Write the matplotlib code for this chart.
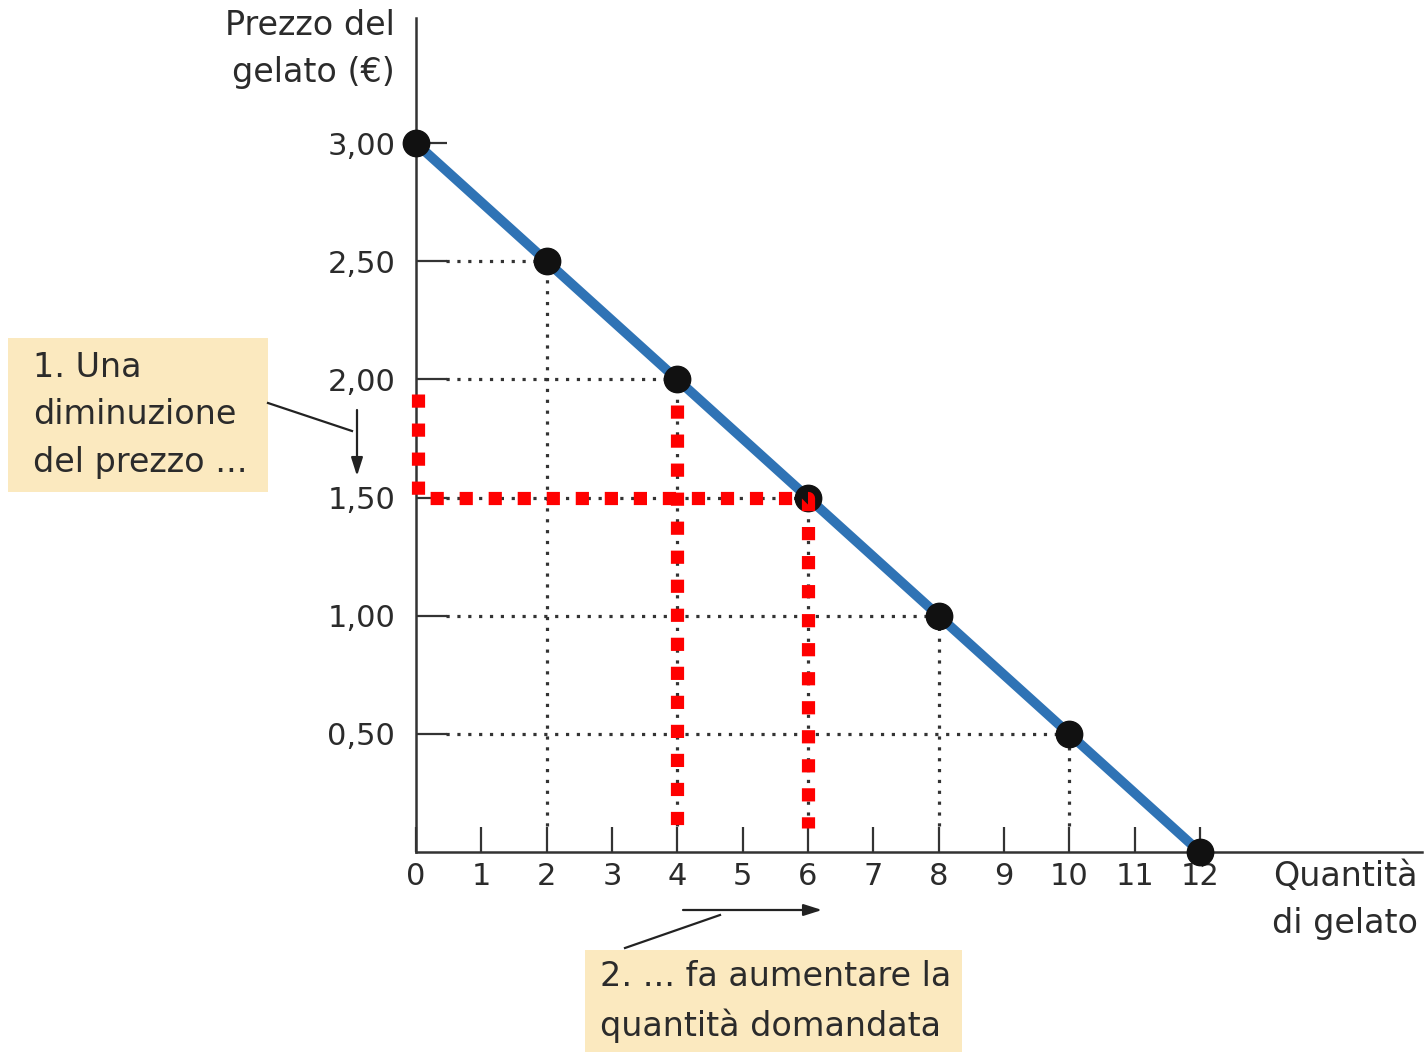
import matplotlib.pyplot as plt
from matplotlib.patches import Rectangle

# curva di domanda del gelato
quantita = [0, 2, 4, 6, 8, 10, 12]
prezzo = [3.00, 2.50, 2.00, 1.50, 1.00, 0.50, 0.00]
x_ticks = list(range(13))
y_ticks = [0.50, 1.00, 1.50, 2.00, 2.50, 3.00]
y_labels = ['0,50', '1,00', '1,50', '2,00', '2,50', '3,00']

W, H = 1426, 1052
fig = plt.figure(figsize=(W / 100, H / 100), dpi=100)
plt.rcParams['font.family'] = ['DejaVu Sans']
txt = '#2b2b2b'
box_col = '#fbe9bf'


def fx(px):
    return px / W


def fy(py):
    return 1 - py / H


ax = fig.add_axes([fx(416), fy(852), 1006 / W, 834 / H])
ax.set_xlim(0, 15.4)
ax.set_ylim(0, 3.53)

for s in ['top', 'right']:
    ax.spines[s].set_visible(False)
for s in ['left', 'bottom']:
    ax.spines[s].set_color('#333333')
    ax.spines[s].set_linewidth(1.8)

ax.set_xticks(x_ticks)
ax.set_yticks(y_ticks)
ax.set_yticklabels(y_labels)
ax.tick_params(axis='x', direction='in', length=18, width=1.6, color='#333333',
               labelsize=22, labelcolor=txt, pad=7)
ax.tick_params(axis='y', direction='in', length=22, width=1.6, color='#333333',
               labelsize=22, labelcolor=txt, pad=15)

# linee punteggiate di riferimento
for q, p in zip(quantita[1:-1], prezzo[1:-1]):
    ax.plot([0.46, q], [p, p], color='#333333', lw=2.3, dashes=(1, 2.4), zorder=2)
    ax.plot([q, q], [0.11, p], color='#333333', lw=2.3, dashes=(1, 2.4), zorder=2)

# curva
ax.plot(quantita, prezzo, color='#2f73b5', lw=7, zorder=3, solid_capstyle='butt')
ax.plot(quantita, prezzo, 'o', color='#111111', markersize=19, zorder=4, clip_on=False)

# tratteggio rosso
q_a, p_a = quantita[2], prezzo[2]
q_b, p_b = quantita[3], prezzo[3]
ax.plot([0.03, 0.03, q_b, q_b], [p_a - 0.06, p_b, p_b, 0.10],
        color='#ff0000', lw=9.5, dashes=(1, 1.2), zorder=5, clip_on=False)
ax.plot([q_a, q_a], [p_a - 0.11, 0.10], color='#ff0000', lw=9.5, dashes=(1, 1.2),
        zorder=5, clip_on=False)

# titoli assi
fig.text(fx(395), fy(9), 'Prezzo del\ngelato (€)', ha='right', va='top',
         fontsize=24, color=txt, linespacing=1.55)
fig.text(fx(1418), fy(860), 'Quantità\ndi gelato', ha='right', va='top',
         fontsize=24, color=txt, linespacing=1.55)

# riquadri
fig.patches.append(Rectangle((fx(8), fy(492)), 260 / W, 154 / H, transform=fig.transFigure,
                             facecolor=box_col, edgecolor='none', zorder=0))
fig.text(fx(33), fy(351), '1. Una\ndiminuzione\ndel prezzo ...', ha='left', va='top',
         fontsize=24, color=txt, linespacing=1.55)
fig.patches.append(Rectangle((fx(585), fy(1052)), 377 / W, 102 / H, transform=fig.transFigure,
                             facecolor=box_col, edgecolor='none', zorder=0))
fig.text(fx(600), fy(960), '2. ... fa aumentare la\nquantità domandata', ha='left', va='top',
         fontsize=24, color=txt, linespacing=1.55)

# frecce
fig.add_artist(plt.Line2D([fx(268), fx(352)], [fy(403), fy(431)], transform=fig.transFigure,
                          color='#222222', lw=1.6))
ax.annotate('', xy=(357, H - 476), xytext=(357, H - 410), xycoords='figure pixels',
            textcoords='figure pixels',
            arrowprops=dict(arrowstyle='-|>,head_length=1.1,head_width=0.35',
                            color='#222222', lw=1.6, shrinkA=0, shrinkB=0))
fig.add_artist(plt.Line2D([fx(625), fx(720)], [fy(948), fy(915)], transform=fig.transFigure,
                          color='#222222', lw=1.6))
ax.annotate('', xy=(822, H - 910), xytext=(683, H - 910), xycoords='figure pixels',
            textcoords='figure pixels',
            arrowprops=dict(arrowstyle='-|>,head_length=1.1,head_width=0.35',
                            color='#222222', lw=1.6, shrinkA=0, shrinkB=0))

fig.savefig('out.png', dpi=100)
